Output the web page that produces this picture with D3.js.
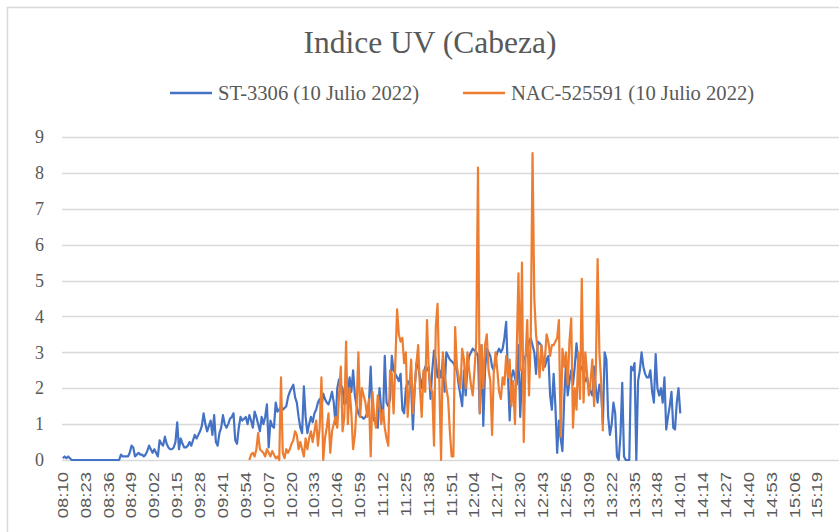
<!DOCTYPE html>
<html>
<head>
<meta charset="utf-8">
<script src="https://cdn.jsdelivr.net/npm/d3@7"></script>
<style>
  body { margin: 0; background: #fff; }
  svg { display: block; }
</style>
</head>
<body>
<div id="chart"></div>
<script>
// Excel style chart: UV index, one reading per minute from 08:10
const title = "Indice UV (Cabeza)";
const seriesNames = ["ST-3306 (10 Julio 2022)", "NAC-525591 (10 Julio 2022)"];
const colors = ["#4472C4", "#ED7D31"];

const firstTime = "08:10";
const categoryCount = 442;
const orangeStart = "09:56";

const tickLabels = ["08:10","08:23","08:36","08:49","09:02","09:15","09:28","09:41","09:54","10:07",
  "10:20","10:33","10:46","10:59","11:12","11:25","11:38","11:51","12:04","12:17","12:30","12:43",
  "12:56","13:09","13:22","13:35","13:48","14:01","14:14","14:27","14:40","14:53","15:06","15:19"];
const yTicks = [0,1,2,3,4,5,6,7,8,9];

// ST-3306, 08:10 -> 14:01
const blue = [
  0.05,0.1,0.05,0.1,0.05,0,0,0,0,0,
  0,0,0,0,0,0,0,0,0,0,
  0,0,0,0,0,0,0,0,0,0,
  0,0,0,0.15,0.1,0.1,0.1,0.1,0.2,0.4,
  0.35,0.1,0.15,0.2,0.15,0.15,0.1,0.15,0.25,0.4,
  0.3,0.2,0.3,0.2,0.1,0.55,0.45,0.4,0.65,0.45,
  0.35,0.3,0.3,0.35,0.5,1.05,0.3,0.6,0.45,0.35,
  0.35,0.4,0.5,0.4,0.55,0.7,0.6,0.7,0.8,0.95,
  1.3,1.0,0.8,0.95,1.1,0.7,1.25,0.5,0.4,0.75,
  0.9,1.25,1.0,0.9,1.0,1.15,1.2,1.3,0.55,0.45,
  0.9,1.2,1.1,1.15,1.2,1.0,1.25,1.1,0.9,1.35,
  1.2,1.0,0.8,1.2,1.0,1.2,1.55,0.35,1.1,0.95,
  0.9,1.6,1.35,1.4,1.5,1.4,1.45,1.5,1.75,1.9,
  2.0,2.1,1.75,1.6,1.2,0.9,0.75,2.05,1.2,0.75,
  1.0,1.2,1.05,1.3,1.4,1.6,1.7,1.45,1.85,1.7,
  1.6,1.55,1.7,1.9,1.6,1.0,2.0,2.25,2.1,2.0,
  1.55,1.6,1.9,2.3,1.9,2.5,1.8,1.5,1.3,1.2,
  1.2,1.15,1.2,1.3,1.6,2.6,1.3,1.1,1.0,0.9,
  2.0,1.4,1.2,2.9,1.6,1.5,1.7,2.9,2.5,2.4,
  2.3,2.2,2.4,1.4,1.3,2.0,2.2,2.1,2.0,0.85,
  2.0,2.7,2.6,2.3,2.0,2.4,2.6,2.5,2.6,1.7,
  2.5,3.05,2.8,2.3,2.5,2.3,2.8,1.9,3.0,2.9,
  2.8,2.75,2.7,2.6,2.5,2.1,1.8,1.5,2.5,1.8,
  2.6,2.9,3.0,3.1,3.05,3.0,2.9,1.3,3.2,0.95,
  2.5,3.1,3.0,2.9,2.6,2.5,2.8,3.0,3.1,3.0,
  3.1,3.4,3.85,2.4,1.1,2.3,2.5,2.3,2.1,3.2,
  1.2,2.4,2.8,2.9,3.0,3.3,3.4,3.2,3.0,2.4,
  3.3,3.25,3.2,2.7,2.6,2.8,2.9,1.8,1.4,2.4,
  1.5,0.2,1.1,0.6,0.25,1.7,2.7,1.8,2.2,2.5,
  2.1,2.6,3.25,2.7,2.5,2.6,2.4,2.2,2.3,2.0,
  1.9,1.8,2.6,2.0,1.6,2.1,1.9,1.0,3.0,2.8,
  1.2,0.7,1.0,1.6,1.3,0.1,0.0,0.7,2.15,0.1,
  0,0,0,2.6,2.5,2.7,0,2.2,2.5,3.0,
  2.6,2.4,2.3,2.3,2.5,1.9,1.6,2.95,2.0,1.8,
  2.0,1.6,2.3,0.85,1.2,1.5,1.9,0.9,0.85,1.6,2.0,1.3
];

// NAC-525591, 09:56 -> 13:17
const orange = [
  0.0,0.15,0.2,0.1,
  0.3,0.75,0.3,0.25,0.2,0.1,0.3,0.2,0.1,0.25,
  0.15,0.05,0.1,0.0,2.3,0.2,0.05,0.3,0.2,0.3,
  0.45,0.55,0.8,0.7,0.3,0.5,0.3,0.1,0.6,0.3,
  0.6,0.8,0.5,0.8,1.1,0.4,0.9,2.3,0.0,0.6,
  0.9,1.3,0.2,0.8,1.0,1.2,0.9,1.8,2.6,0.8,
  1.2,3.3,1.0,2.0,1.3,0.3,0.7,1.5,3.0,1.2,
  2.0,1.8,1.6,1.2,1.7,0.1,1.9,1.2,0.9,1.8,
  1.5,1.0,1.4,0.9,0.6,0.4,2.5,2.4,1.3,2.7,
  4.2,3.5,3.3,3.4,2.7,3.0,1.2,2.0,2.8,1.3,
  2.0,2.7,3.2,2.0,1.2,2.5,1.9,3.9,2.5,2.0,
  1.9,0.4,3.7,4.35,2.2,0.0,3.0,2.4,2.0,1.7,
  0.8,0.1,0.1,3.7,2.6,2.3,2.0,3.1,2.8,2.0,
  3.0,2.5,2.1,1.8,2.5,3.3,8.15,1.3,3.2,2.0,
  3.2,3.5,2.5,2.2,0.7,2.5,3.0,2.5,1.9,1.7,
  2.3,2.1,2.9,2.3,2.8,1.5,2.2,1.0,3.0,5.2,
  2.5,5.5,0.5,2.8,3.9,1.8,3.5,8.55,4.5,3.5,
  3.0,2.3,3.2,2.5,2.8,3.5,3.3,2.9,3.2,3.2,
  3.3,3.4,3.9,0.65,3.1,2.6,3.0,2.1,3.3,3.95,
  0.9,2.0,1.4,3.0,1.7,5.05,1.6,3.0,2.4,1.8,
  2.2,2.8,1.5,2.5,5.6,3.0,2.2,0.8
];

const width = 839, height = 532;
const plot = { left: 62, top: 137, bottom: 460 };

function toMinutes(t) {
  const [h, m] = t.split(":").map(Number);
  return h * 60 + m;
}
function fmt(mins) {
  const h = Math.floor(mins / 60), m = mins % 60;
  return String(h).padStart(2, "0") + ":" + String(m).padStart(2, "0");
}

const t0 = toMinutes(firstTime);
const categories = d3.range(categoryCount).map(i => fmt(t0 + i));

const x = d3.scaleBand()
  .domain(categories)
  .range([plot.left, plot.left + categoryCount * 1.759]);
const y = d3.scaleLinear().domain([0, 9]).range([plot.bottom, plot.top]);
const cx = c => x(c) + x.bandwidth() / 2;

const svg = d3.select("#chart").append("svg")
  .attr("width", width)
  .attr("height", height);

svg.append("rect").attr("width", width).attr("height", height).attr("fill", "#fff");

// chart border (only left/top edges visible)
svg.append("path")
  .attr("d", `M7.5,${height}V7.5H${width}`)
  .attr("fill", "none")
  .attr("stroke", "#d9d9d9")
  .attr("stroke-width", 1.5);

// gridlines
svg.append("g")
  .selectAll("line")
  .data(yTicks)
  .enter().append("line")
  .attr("x1", plot.left)
  .attr("x2", width)
  .attr("y1", d => Math.round(y(d)) + 0.5)
  .attr("y2", d => Math.round(y(d)) + 0.5)
  .attr("stroke", "#d9d9d9")
  .attr("stroke-width", 1.3);

// y axis labels
const yAxis = svg.append("g")
  .attr("transform", `translate(${plot.left - 18},0)`)
  .call(d3.axisLeft(y).tickValues(yTicks).tickSize(0).tickPadding(0));
yAxis.select(".domain").remove();
yAxis.selectAll("text")
  .attr("font-family", "'Liberation Serif', 'Times New Roman', serif")
  .attr("font-size", 18)
  .attr("fill", "#595959");

// x axis labels
const xAxis = svg.append("g")
  .attr("transform", `translate(0,${plot.bottom})`)
  .call(d3.axisBottom(x).tickValues(tickLabels).tickSize(0).tickPadding(0));
xAxis.select(".domain").remove();
xAxis.selectAll("text")
  .attr("font-family", "'Liberation Sans', Arial, sans-serif")
  .attr("font-size", 14)
  .attr("fill", "#595959")
  .attr("text-anchor", "end")
  .attr("dy", null)
  .attr("y", 0)
  .attr("transform", "translate(0,12) rotate(-90) scale(1.32,1) translate(0,5)");

// series
const o0 = toMinutes(orangeStart) - t0;
const blueData = blue.map((v, i) => ({ c: categories[i], v }));
const orangeData = orange.map((v, i) => ({ c: categories[o0 + i], v }));

const line = d3.line()
  .x(d => cx(d.c))
  .y(d => y(d.v));

[blueData, orangeData].forEach((data, k) => {
  svg.append("path")
    .datum(data)
    .attr("d", line)
    .attr("fill", "none")
    .attr("stroke", colors[k])
    .attr("stroke-width", 2.2)
    .attr("stroke-linejoin", "round");
});

// title
svg.append("text")
  .attr("x", 430)
  .attr("y", 53)
  .attr("text-anchor", "middle")
  .attr("font-family", "'Liberation Serif', 'Times New Roman', serif")
  .attr("font-size", 31.5)
  .attr("fill", "#595959")
  .text(title);

// legend
const legendPos = [170, 463];
seriesNames.forEach((name, k) => {
  const g = svg.append("g").attr("transform", `translate(${legendPos[k]},93)`);
  g.append("line")
    .attr("x1", 0).attr("x2", 42)
    .attr("stroke", colors[k])
    .attr("stroke-width", 2.5);
  g.append("text")
    .attr("x", 48)
    .attr("y", 7)
    .attr("font-family", "'Liberation Serif', 'Times New Roman', serif")
    .attr("font-size", 20.6)
    .attr("fill", "#595959")
    .text(name);
});
</script>
</body>
</html>
